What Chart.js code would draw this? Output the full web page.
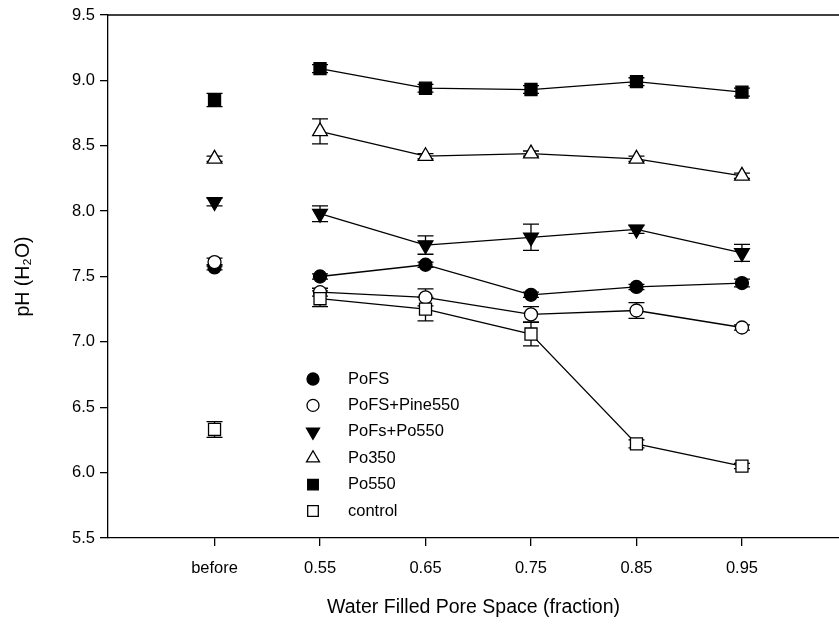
<!DOCTYPE html>
<html>
<head>
<meta charset="utf-8">
<script src="https://cdn.jsdelivr.net/npm/chart.js@4.4.1/dist/chart.umd.min.js"></script>
<style>
  html, body { margin: 0; padding: 0; background: #fff; }
  #wrap { width: 839px; height: 627px; }
</style>
</head>
<body>
<div id="wrap"><canvas id="ph-chart" width="839" height="627"></canvas></div>
<script>
// x positions: 0 = before, 1..5 = WFPS
const xLabels = ['before', '0.55', '0.65', '0.75', '0.85', '0.95'];
const yTicks = [5.5, 6.0, 6.5, 7.0, 7.5, 8.0, 8.5, 9.0, 9.5];

const seriesNames = ['PoFS', 'PoFS+Pine550', 'PoFs+Po550', 'Po350', 'Po550', 'control'];

// means (before, 0.55, 0.65, 0.75, 0.85, 0.95)
const pofs      = [7.57, 7.50, 7.59, 7.36, 7.42, 7.45];
const pofsPine  = [7.61, 7.38, 7.34, 7.21, 7.24, 7.11];
const pofsPo550 = [8.07, 7.98, 7.74, 7.80, 7.86, 7.68];
const po350     = [8.40, 8.61, 8.42, 8.44, 8.40, 8.27];
const po550     = [8.85, 9.09, 8.94, 8.93, 8.99, 8.91];
const control   = [6.33, 7.33, 7.25, 7.06, 6.22, 6.05];

// standard errors
const pofsErr      = [0.02, 0.02, 0.02, 0.02, 0.02, 0.03];
const pofsPineErr  = [0.03, 0.03, 0.065, 0.06, 0.06, 0.02];
const pofsPo550Err = [0.03, 0.06, 0.07, 0.10, 0.03, 0.065];
const po350Err     = [0.02, 0.095, 0.02, 0.02, 0.02, 0.02];
const po550Err     = [0.05, 0.03, 0.03, 0.03, 0.03, 0.03];
const controlErr   = [0.06, 0.06, 0.09, 0.09, 0.03, 0.02];

const means = [pofs, pofsPine, pofsPo550, po350, po550, control];
const errs = [pofsErr, pofsPineErr, pofsPo550Err, po350Err, po550Err, controlErr];

// marker styles
const styles = [
  { pointStyle: 'circle',   fill: '#000', radius: 6.5, rotation: 0 },
  { pointStyle: 'circle',   fill: '#fff', radius: 6.5, rotation: 0 },
  { pointStyle: 'triangle', fill: '#000', radius: 8.5, rotation: 180 },
  { pointStyle: 'triangle', fill: '#fff', radius: 8.5, rotation: 0 },
  { pointStyle: 'rect',     fill: '#000', radius: 8.5, rotation: 0 },
  { pointStyle: 'rect',     fill: '#fff', radius: 8.5, rotation: 0 }
];

const datasets = seriesNames.map((name, i) => ({
  label: name,
  data: means[i].map((v, j) => ({ x: j, y: v })),
  errors: errs[i],
  order: seriesNames.length - i, // later series on top
  borderColor: '#000',
  borderWidth: 1.3,
  pointStyle: styles[i].pointStyle,
  pointRotation: styles[i].rotation,
  pointRadius: styles[i].radius,
  pointBackgroundColor: styles[i].fill,
  pointBorderColor: '#000',
  pointBorderWidth: 1.3,
  showLine: true,
  tension: 0,
  // no line between "before" and 0.55
  segment: { borderColor: ctx => ctx.p0DataIndex === 0 ? 'rgba(0,0,0,0)' : '#000' }
}));

// error bars, drawn under the markers
const errorBars = {
  id: 'errorBars',
  beforeDatasetsDraw(chart) {
    const ctx = chart.ctx;
    const xs = chart.scales.x, ys = chart.scales.y;
    ctx.save();
    ctx.strokeStyle = '#000';
    ctx.lineWidth = 1.3;
    chart.data.datasets.forEach(ds => {
      ds.data.forEach((p, j) => {
        const e = ds.errors[j];
        const px = xs.getPixelForValue(p.x);
        const top = ys.getPixelForValue(p.y + e);
        const bot = ys.getPixelForValue(p.y - e);
        ctx.beginPath();
        ctx.moveTo(px, top); ctx.lineTo(px, bot);
        ctx.moveTo(px - 8, top); ctx.lineTo(px + 8, top);
        ctx.moveTo(px - 8, bot); ctx.lineTo(px + 8, bot);
        ctx.stroke();
      });
    });
    ctx.restore();
  }
};

// top frame line and inset legend
const frameLegend = {
  id: 'frameLegend',
  afterDraw(chart) {
    const ctx = chart.ctx;
    const a = chart.chartArea;
    ctx.save();
    ctx.strokeStyle = '#000';
    ctx.lineWidth = 1.3;
    ctx.beginPath();
    ctx.moveTo(a.left, a.top); ctx.lineTo(chart.width, a.top);
    ctx.stroke();

    ctx.font = '16.5px "Liberation Sans", Arial, sans-serif';
    ctx.textBaseline = 'middle';
    chart.data.datasets.forEach((ds, i) => {
      const y = 379 + i * 26.4;
      const s = styles[i];
      ctx.fillStyle = s.fill;
      ctx.strokeStyle = '#000';
      ctx.lineWidth = 1.3;
      Chart.helpers.drawPoint(ctx, {
        pointStyle: s.pointStyle,
        rotation: s.rotation,
        radius: s.pointStyle === 'circle' ? 6 : 7.5,
        borderWidth: 1.3
      }, 313, y);
      ctx.fillStyle = '#000';
      ctx.fillText(ds.label, 348, y);
    });
    ctx.restore();
  }
};

new Chart(document.getElementById('ph-chart'), {
  type: 'scatter',
  data: { datasets: datasets },
  plugins: [errorBars, frameLegend],
  options: {
    responsive: false,
    animation: false,
    layout: { autoPadding: false, padding: { top: 15, right: 0, left: 0, bottom: 0 } },
    plugins: {
      legend: { display: false },
      tooltip: { enabled: false }
    },
    scales: {
      x: {
        type: 'linear',
        min: -1.01,
        max: 5.92,
        afterBuildTicks: scale => { scale.ticks = xLabels.map((l, i) => ({ value: i })); },
        afterFit: scale => {
          scale.height = 89;
          scale.paddingLeft = 0;
          scale.paddingRight = 0;
        },
        grid: { drawOnChartArea: false, tickLength: 8, color: '#000', lineWidth: 1.3 },
        border: { color: '#000', width: 1.3 },
        ticks: {
          color: '#000',
          padding: 13,
          maxRotation: 0,
          autoSkip: false,
          font: { family: '"Liberation Sans", Arial, sans-serif', size: 16.5 },
          callback: v => xLabels[v]
        },
        title: {
          display: true,
          text: 'Water Filled Pore Space (fraction)',
          color: '#000',
          padding: { top: 10, bottom: 8 },
          font: { family: '"Liberation Sans", Arial, sans-serif', size: 19.5 }
        }
      },
      y: {
        min: 5.5,
        max: 9.5,
        afterBuildTicks: scale => { scale.ticks = yTicks.map(v => ({ value: v })); },
        afterFit: scale => { scale.width = 108; },
        grid: { drawOnChartArea: false, tickLength: 8, color: '#000', lineWidth: 1.3 },
        border: { color: '#000', width: 1.3 },
        ticks: {
          color: '#000',
          padding: 5,
          font: { family: '"Liberation Sans", Arial, sans-serif', size: 16.5 },
          callback: v => v.toFixed(1)
        },
        title: {
          display: true,
          text: 'pH (H\u2082O)',
          color: '#000',
          padding: { top: 12, bottom: 0 },
          font: { family: '"Liberation Sans", Arial, sans-serif', size: 19.5 }
        }
      }
    }
  }
});
</script>
</body>
</html>
